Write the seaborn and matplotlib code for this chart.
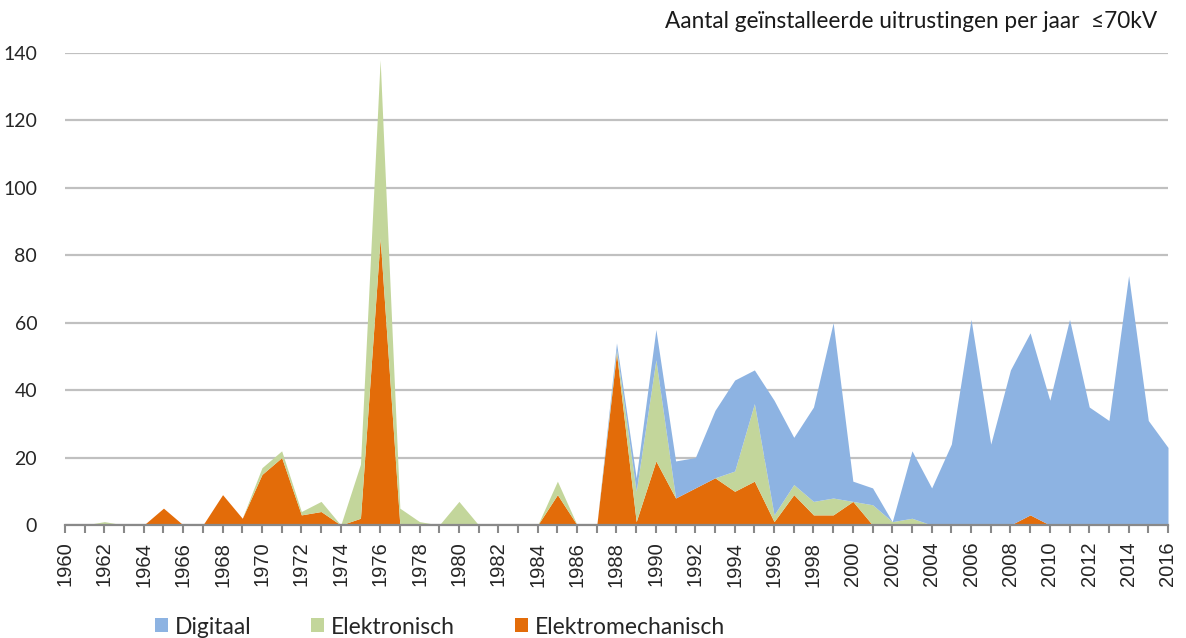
import matplotlib
matplotlib.use("Agg")
import matplotlib.pyplot as plt
import seaborn as sns
import numpy as np
from matplotlib.patches import Patch

years = list(range(1960, 2017))

elektromechanisch = [0, 0, 0, 0, 0, 5, 0, 0, 9, 2,
                     15, 20, 3, 4, 0, 2, 85, 0, 0, 0,
                     0, 0, 0, 0, 0, 9, 0, 0, 51, 1,
                     19, 8, 11, 14, 10, 13, 1, 9, 3, 3,
                     7, 0, 0, 0, 0, 0, 0, 0, 0, 3,
                     0, 0, 0, 0, 0, 0, 0]
elektronisch = [0, 0, 1, 0, 0, 0, 0, 0, 0, 0,
                2, 2, 1, 3, 0, 16, 53, 5, 1, 0,
                7, 0, 0, 0, 0, 4, 0, 0, 1, 9,
                30, 0, 0, 0, 6, 23, 2, 3, 4, 5,
                0, 6, 1, 2, 0, 0, 0, 0, 0, 0,
                0, 0, 0, 0, 0, 0, 0]
digitaal = [0, 0, 0, 0, 0, 0, 0, 0, 0, 0,
            0, 0, 0, 0, 0, 0, 0, 0, 0, 0,
            0, 0, 0, 0, 0, 0, 0, 0, 2, 4,
            9, 11, 9, 20, 27, 10, 34, 14, 28, 52,
            6, 5, 0, 20, 11, 24, 61, 24, 46, 54,
            37, 61, 35, 31, 74, 31, 23]

series_names = ["Digitaal", "Elektronisch", "Elektromechanisch"]
colors = {"Digitaal": "#8DB3E2", "Elektronisch": "#C3D69B", "Elektromechanisch": "#E36C09"}
title = "Aantal geïnstalleerde uitrustingen per jaar  \u226470kV"
y_ticks = [0, 20, 40, 60, 80, 100, 120, 140]

sns.set_theme(style="white")
plt.rcParams['font.family'] = ['Lato', 'DejaVu Sans']

fig = plt.figure(figsize=(11.86, 6.38), dpi=100)
ax = fig.add_axes([65/1186, 1-525/638, (1168-65)/1186, (525-53)/638])

ax.stackplot(years, elektromechanisch, elektronisch, digitaal,
             colors=[colors["Elektromechanisch"], colors["Elektronisch"], colors["Digitaal"]],
             linewidth=0, zorder=3)

ax.set_xlim(1960, 2016)
ax.set_ylim(0, 140)
ax.set_yticks(y_ticks)
ax.set_yticklabels([str(v) for v in y_ticks], fontsize=14, color="#262626")
ax.yaxis.grid(True, color="#C0C0C0", linewidth=1.6, zorder=0)
ax.set_axisbelow(True)
ax.tick_params(axis="y", length=0, pad=20)

ax.set_xticks(years, minor=True)
ax.set_xticks(years[::2])
ax.set_xticklabels([str(y) for y in years[::2]], rotation=90, fontsize=14.5,
                   family=["Liberation Sans", "DejaVu Sans"], color="#262626")
ax.tick_params(axis="x", which="both", direction="out", length=6, width=1.5,
               color="#898989", bottom=True, pad=6)

for s in ["top", "right", "left"]:
    ax.spines[s].set_visible(False)
ax.spines["bottom"].set_color("#898989")
ax.spines["bottom"].set_linewidth(1.6)
ax.spines["bottom"].set_zorder(4)

fig.text(1157/1186, 1-22/638, title, ha="right", va="center", fontsize=16.3, color="#1a1a1a")

handles = [Patch(facecolor=colors[n], edgecolor="none") for n in series_names]
fig.legend(handles, series_names, loc="center left", bbox_to_anchor=(155/1186, 1-627/638),
           ncol=3, frameon=False, fontsize=16.5, handlelength=0.57, handleheight=0.57,
           handletextpad=0.3, columnspacing=2.6, borderpad=0, borderaxespad=0)

fig.savefig("out.png", dpi=100)
